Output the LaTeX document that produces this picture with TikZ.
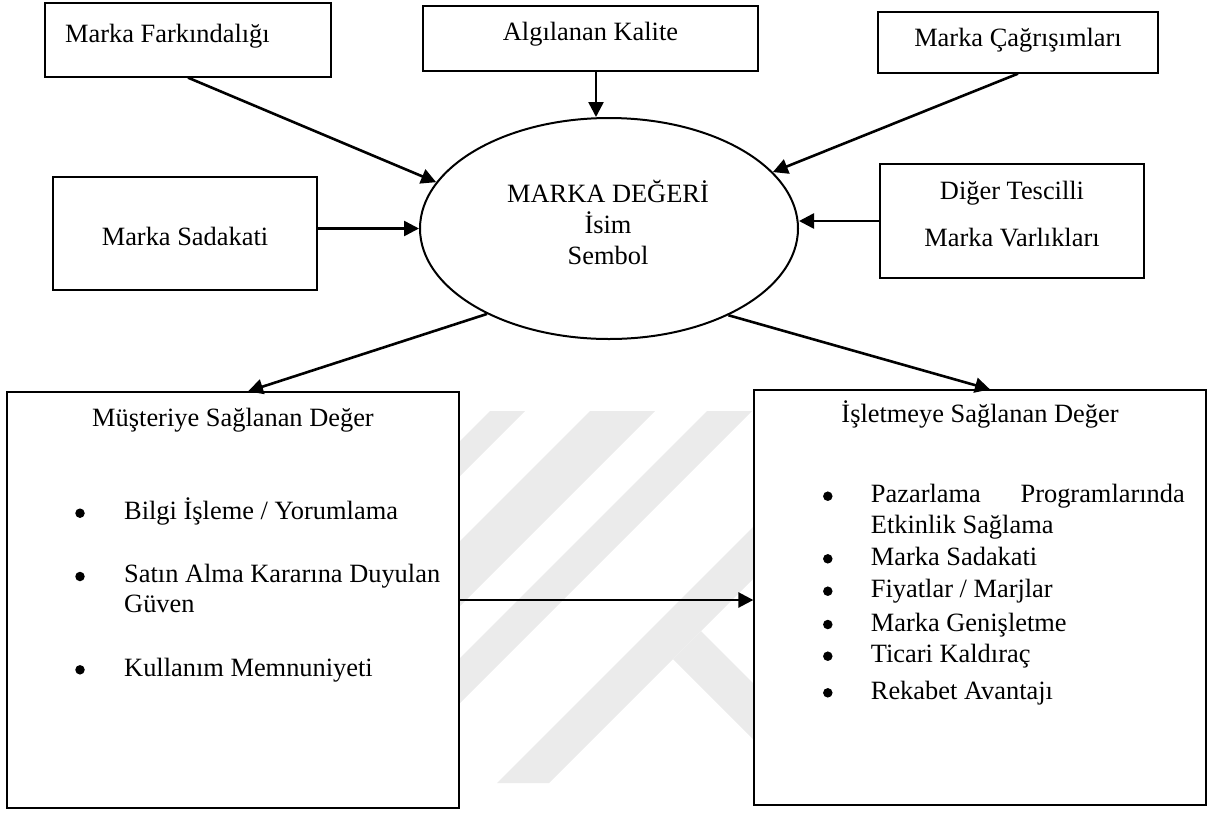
\documentclass[tikz,border=0pt]{standalone}
\usepackage{fontspec}
\setmainfont{Liberation Serif}
\usetikzlibrary{shapes.geometric,arrows.meta}
\begin{document}
\begin{tikzpicture}[x=1pt,y=-1pt,
  box/.style={draw=black,line width=1.3pt,fill=white,rectangle,inner sep=0pt},
  oval/.style={draw=black,line width=2pt,fill=white,ellipse,inner sep=0pt},
  txt/.style={inner sep=0pt,font=\fontsize{26.4}{30}\selectfont},
  dot/.style={circle,fill=black,inner sep=0pt,minimum size=9.5pt},
  arr/.style={line width=2.6pt,-{Triangle[length=15pt,width=15pt]}},
  wm/.style={fill=black!8,draw=none}]
\useasboundingbox (0,0) rectangle (1210,812);
% faint watermark between the two lower boxes
\begin{scope}
  \clip (459,411) rectangle (754,783);
  \fill[wm] (490,411) -- (525,411) -- (400,536) -- (400,501) -- cycle;
  \fill[wm] (590,411) -- (655,411) -- (400,666) -- (400,601) -- cycle;
  \fill[wm] (707,411) -- (752,411) -- (400,763) -- (400,718) -- cycle;
  \fill[wm] (497,783) -- (549,783) -- (800,532) -- (800,480) -- cycle;
  \fill[wm] (701,631) -- (800,730) -- (800,786) -- (673,659) -- cycle;
\end{scope}
% boxes
\node[box,minimum width=286pt,minimum height=74pt] (A) at (188,40) {};
\node[box,minimum width=335pt,minimum height=65pt] (B) at (590.5,38.5) {};
\node[box,minimum width=280pt,minimum height=61pt] (C) at (1018,42.5) {};
\node[box,minimum width=264pt,minimum height=113pt] (D) at (185,233.5) {};
\node[box,minimum width=264pt,minimum height=114pt] (F) at (1012,221) {};
\node[oval,minimum width=378pt,minimum height=221pt] (E) at (609,228.5) {};
\node[box,minimum width=452pt,minimum height=416pt] (G) at (233,600) {};
\node[box,minimum width=452pt,minimum height=415pt] (H) at (980,597.5) {};
% texts
\node[txt,anchor=base west] (tA) at (65,42) {Marka Farkındalığı};
\node[txt,anchor=base] (tB) at (590.5,40) {Algılanan Kalite};
\node[txt,anchor=base] (tC) at (1018,46.7) {Marka Çağrışımları};
\node[txt,anchor=base] (tD) at (185,245) {Marka Sadakati};
\node[txt,anchor=base] (tF1) at (1012,199) {Diğer Tescilli};
\node[txt,anchor=base] (tF2) at (1012,246) {Marka Varlıkları};
\node[txt,anchor=base] (tE1) at (608,202.7) {MARKA DEĞERİ};
\node[txt,anchor=base] (tE2) at (608,233.3) {İsim};
\node[txt,anchor=base] (tE3) at (608,264.3) {Sembol};
% left lower box
\node[txt,anchor=base] (tG) at (233,426.7) {Müşteriye Sağlanan Değer};
\node[dot] (bG1) at (80,513.2) {};
\node[txt,anchor=base west] (g1) at (124,519.3) {Bilgi İşleme / Yorumlama};
\node[dot] (bG2) at (80,576.5) {};
\node[txt,anchor=base west] (g2) at (124,582.7) {Satın Alma Kararına Duyulan};
\node[txt,anchor=base west] (g2b) at (124,612.7) {Güven};
\node[dot] (bG3) at (80,669.8) {};
\node[txt,anchor=base west] (g3) at (124,676) {Kullanım Memnuniyeti};
% right lower box
\node[txt,anchor=base] (tH) at (980,422.7) {İşletmeye Sağlanan Değer};
\node[dot] (bH1) at (827.8,496.2) {};
\node[txt,anchor=base west] (h1a) at (870.7,502.7) {Pazarlama};
\node[txt,anchor=base east] (h1b) at (1185,502.7) {Programlarında};
\node[txt,anchor=base west] (h1c) at (870.7,533.3) {Etkinlik Sağlama};
\node[dot] (bH2) at (827.8,558.8) {};
\node[txt,anchor=base west] (h2) at (870.7,565.3) {Marka Sadakati};
\node[dot] (bH3) at (827.8,591.2) {};
\node[txt,anchor=base west] (h3) at (870.7,597.7) {Fiyatlar / Marjlar};
\node[dot] (bH4) at (827.8,624.5) {};
\node[txt,anchor=base west] (h4) at (870.7,631) {Marka Genişletme};
\node[dot] (bH5) at (827.8,656.2) {};
\node[txt,anchor=base west] (h5) at (870.7,662.7) {Ticari Kaldıraç};
\node[dot] (bH6) at (827.8,692.8) {};
\node[txt,anchor=base west] (h6) at (870.7,699.3) {Rekabet Avantajı};
% connectors
\coordinate (bs) at ([xshift=5.5pt]B.south);
\coordinate (gt) at ([xshift=15pt]G.north);
\coordinate (ht) at ([xshift=10pt]H.north);
\draw[arr] (A.south) -- (E.165.2);
\draw[arr] (bs) -- (bs |- E.north);
\draw[arr] (C.south) -- (E.19.7);
\draw[arr] (D.east |- E.west) -- (E.west);
\draw[arr] (F.west) -- (F.west -| E.east);
\draw[arr] (E.215.7) -- (gt);
\draw[arr] (E.324.1) -- (ht);
\draw[arr] (G.east) -- (G.east -| H.west);
\end{tikzpicture}
\end{document}
